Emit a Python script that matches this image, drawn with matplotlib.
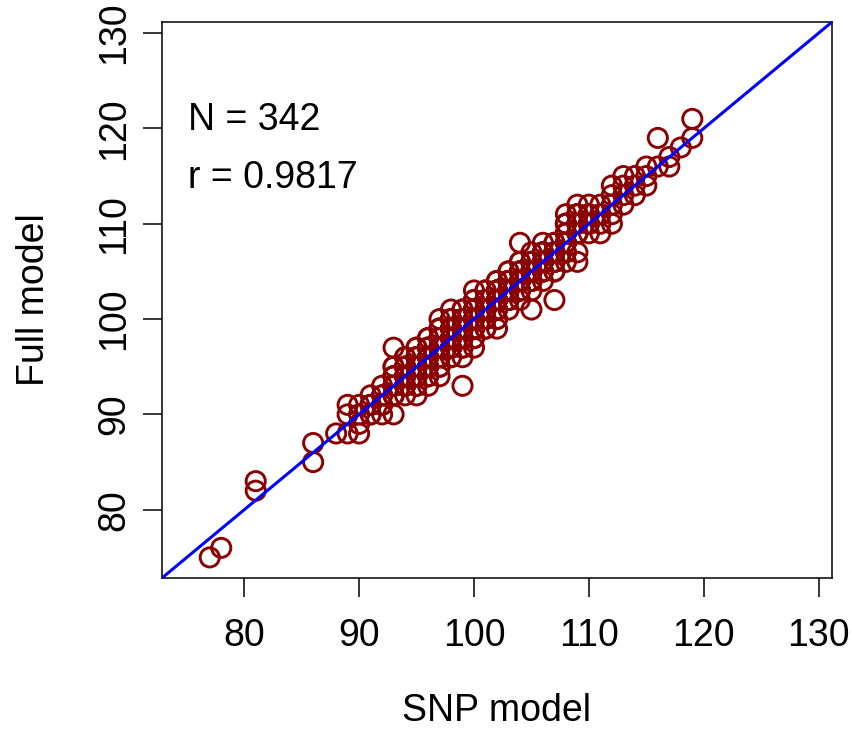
import matplotlib
matplotlib.use("Agg")
import matplotlib.pyplot as plt

plt.rcParams['font.family'] = ['Liberation Sans', 'DejaVu Sans']

# SNP-model score levels and the Full-model scores observed at each level
snp_levels = [77, 78, 81, 86, 88, 89, 90, 91, 92, 93, 94, 95, 96, 97, 98, 99,
              100, 101, 102, 103, 104, 105, 106, 107, 108, 109, 110, 111, 112,
              113, 114, 115, 116, 117, 118, 119]
full_groups = [
    [75],
    [76],
    [83, 82],
    [87, 85],
    [88],
    [91, 90, 88],
    [88, 91, 90, 89],
    [90, 91, 92, 91, 90, 91],
    [90, 91, 92, 93, 92, 91],
    [90, 92, 93, 94, 95, 97, 93, 94, 92, 93, 94, 95, 92, 93, 94],
    [92, 93, 94, 95, 96, 93, 94, 95, 94, 95, 93, 94, 95, 96, 94],
    [92, 93, 94, 95, 96, 97, 94, 95, 96, 93, 95, 96, 94, 95, 96, 95, 94, 97],
    [93, 94, 95, 96, 97, 98, 95, 96, 97, 94, 96, 97, 95, 96, 97, 96, 95, 98, 94],
    [94, 95, 96, 97, 98, 99, 100, 96, 97, 98, 99, 97, 98, 96, 97, 98, 97, 96, 99, 95],
    [96, 97, 98, 99, 100, 101, 97, 98, 99, 100, 98, 99, 97, 98, 99, 98, 97, 100, 96],
    [93, 96, 97, 98, 99, 100, 101, 98, 99, 100, 99, 100, 98, 99, 100, 99, 98, 101, 97],
    [97, 98, 99, 100, 101, 102, 103, 99, 100, 101, 100, 101, 99, 100, 101, 100, 99, 102, 98],
    [99, 100, 101, 102, 103, 100, 101, 102, 101, 102, 100, 101, 102, 101, 100, 103, 99],
    [99, 100, 101, 102, 103, 104, 101, 102, 103, 102, 103, 101, 102, 103, 102, 101, 104, 100],
    [101, 102, 103, 104, 105, 102, 103, 104, 103, 104, 102, 103, 104, 103, 102, 105],
    [102, 103, 104, 105, 106, 108, 103, 104, 105, 104, 105, 103, 104, 105, 104, 103, 106],
    [101, 103, 104, 105, 106, 107, 104, 105, 106, 105, 106, 104, 105, 106, 105, 104],
    [104, 105, 106, 107, 108, 105, 106, 107, 106, 107, 105, 106, 107, 106, 105],
    [102, 105, 106, 107, 108, 106, 107, 107, 108, 106, 107, 106, 105],
    [106, 107, 108, 109, 110, 111, 108, 109, 110, 108, 109, 107, 108, 109, 110],
    [106, 107, 109, 110, 111, 112, 110, 111, 109, 110, 111],
    [109, 110, 111, 112, 110, 110, 111],
    [109, 110, 111, 112, 111],
    [110, 112, 113, 114, 111],
    [112, 113, 114, 115],
    [113, 114, 115],
    [114, 115, 116],
    [116, 119],
    [116, 117],
    [118],
    [119, 121],
]

snp_model = [lv for lv, g in zip(snp_levels, full_groups) for _ in g]
full_model = [v for g in full_groups for v in g]

ticks = [80, 90, 100, 110, 120, 130]
n_label = "N = 342"
r_label = "r = 0.9817"

FS = 27

fig = plt.figure(figsize=(8.52, 7.31), dpi=100)
ax = fig.add_axes([0.1901, 0.2093, 0.7864, 0.7606])

ax.scatter(snp_model, full_model, s=190, facecolors='none',
           edgecolors='#8B0000', linewidths=2.1, zorder=2)
ax.axline((80, 80), slope=1, color='#0000FF', linewidth=2.2, zorder=3)

lo, hi = 72.84, 131.16
ax.set_xlim(lo, hi)
ax.set_ylim(lo, hi)

ax.set_xticks(ticks)
ax.set_yticks(ticks)
ax.set_xticklabels([str(t) for t in ticks], fontsize=FS)
ax.set_yticklabels([str(t) for t in ticks], fontsize=FS, rotation=90, va='center')
ax.tick_params(axis='both', direction='out', length=14, width=1.1, colors='black')
ax.tick_params(axis='x', pad=15)
ax.tick_params(axis='y', pad=7.5)

for sp in ax.spines.values():
    sp.set_linewidth(1.1)
    sp.set_color('black')

ax.set_xlabel("SNP model", fontsize=FS, labelpad=28)
ax.set_ylabel("Full model", fontsize=FS, labelpad=32)

ax.text(0.039, 0.824, n_label, transform=ax.transAxes, fontsize=FS,
        ha='left', va='center')
ax.text(0.039, 0.719, r_label, transform=ax.transAxes, fontsize=FS,
        ha='left', va='center')

fig.savefig("out.png", dpi=100)
